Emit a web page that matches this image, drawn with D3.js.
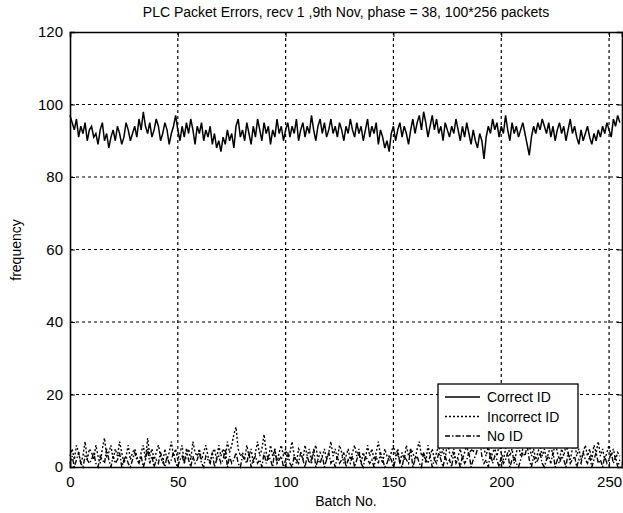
<!DOCTYPE html>
<html><head><meta charset="utf-8">
<script src="https://cdn.jsdelivr.net/npm/d3@7"></script>
<style>body{margin:0;background:#fff}svg{display:block}text{font-family:"Liberation Sans",Arial,sans-serif;fill:#000}</style>
</head><body><svg id="c" width="623" height="513"></svg>
<script>
const title = "PLC Packet Errors, recv 1 ,9th Nov, phase = 38, 100*256 packets";
const xLabel = "Batch No.";
const yLabel = "frequency";
const xTicks = [0, 50, 100, 150, 200, 250];
const yTicks = [0, 20, 40, 60, 80, 100, 120];
const seriesNames = ["Correct ID", "Incorrect ID", "No ID"];
const correctID = [
97,95,93,96,91,94,92,95,90,93, 94,91,92,89,93,95,90,92,88,91,
93,90,94,92,89,91,95,93,90,92, 94,91,96,93,98,94,92,95,91,93,
96,94,90,92,95,93,89,92,94,97, 93,90,94,91,95,92,96,93,89,94,
92,95,90,93,91,94,89,92,88,90, 87,91,89,93,90,92,88,94,96,91,
93,90,95,92,89,94,91,96,93,90, 95,92,94,89,93,91,96,92,94,90,
93,95,91,94,92,96,90,93,95,91, 94,92,97,93,90,94,96,92,95,91,
93,96,92,94,91,95,93,90,94,92, 96,93,91,95,92,94,90,93,96,91,
94,92,95,89,93,91,88,90,87,92, 94,90,93,95,91,94,92,89,93,96,
92,95,97,93,98,95,91,94,97,93, 96,92,94,90,95,93,91,94,92,96,
93,90,94,91,95,92,89,93,90,88, 92,90,85,91,94,92,96,93,95,91,
94,92,97,93,90,95,92,94,91,93, 95,92,89,86,91,94,92,95,93,96,
94,92,95,91,94,90,93,95,92,94, 90,93,96,92,94,91,89,93,90,92,
94,91,89,92,90,93,91,94,92,95, 93,91,96,94,97,95];
const incorrectID = [
3,5,2,6,4,1,3,7,2,5, 4,2,6,3,1,5,8,3,4,6,
2,5,3,7,4,1,3,6,2,4, 5,3,1,4,6,2,8,3,5,2,
4,6,3,1,5,2,4,7,3,5, 2,4,6,1,3,5,2,7,4,3,
5,2,4,6,3,1,4,5,2,6, 3,5,2,7,4,6,9,11,5,3,
4,2,6,3,5,1,4,7,3,5, 9,4,2,6,3,5,1,4,6,3,
5,2,4,7,3,1,5,4,2,6, 3,5,1,4,6,2,4,3,5,2,
4,7,3,5,2,6,4,1,3,5, 2,4,6,3,5,1,4,2,6,3,
5,2,4,7,3,1,5,3,2,4, 6,3,5,1,4,2,6,3,5,4,
2,5,7,3,4,1,6,3,5,2, 4,6,3,5,2,7,4,3,5,1,
3,5,2,4,6,3,5,4,7,10, 13,8,5,3,6,2,4,5,3,6,
4,2,5,7,3,5,1,4,6,3, 5,9,12,6,3,5,2,4,6,3,
5,2,4,6,3,7,4,2,5,3, 6,4,2,5,7,3,5,2,4,6,
3,5,2,6,4,7,3,5,2,4, 6,3,5,2,4,3];
const noID = [
1,3,0,2,4,1,0,3,2,1, 2,4,1,0,3,2,1,5,2,0,
3,1,2,4,0,2,3,1,0,2, 4,2,1,3,0,2,5,1,3,0,
2,1,4,2,0,3,1,2,4,1, 0,2,3,1,5,2,0,3,1,2,
4,1,0,3,2,1,4,0,2,3, 1,2,5,0,3,1,2,4,1,0,
3,2,1,4,0,2,3,1,2,0, 4,1,3,2,0,5,1,2,3,0,
2,4,1,0,3,2,1,4,2,0, 3,1,2,5,0,2,1,3,0,2,
4,1,2,0,3,1,2,4,0,2, 1,3,0,2,4,1,0,3,2,1,
2,0,3,1,4,2,0,1,3,2, 0,2,4,1,0,3,2,1,5,0,
2,3,1,0,4,2,1,3,0,2, 1,4,2,0,3,1,2,0,4,1,
2,0,3,1,2,4,0,2,3,5, 8,3,1,2,0,4,1,3,2,0,
3,1,2,4,0,2,3,1,0,2, 4,3,6,2,0,3,1,2,4,1,
0,2,3,1,4,0,2,1,3,2, 0,4,1,2,3,0,2,1,4,2,
1,3,0,2,4,1,2,0,3,1, 2,4,1,3,0,2];

const svg = d3.select("#c");
const L = 70, R = 622, T = 32, B = 467;
const x = d3.scaleLinear().domain([0, 256]).range([L, R]);
const y = d3.scaleLinear().domain([0, 120]).range([B, T]);

// grid
const g = svg.append("g");
g.selectAll(".gx").data(xTicks.filter(d => d > 0)).join("line")
  .attr("x1", d => x(d)).attr("x2", d => x(d)).attr("y1", T).attr("y2", B)
  .attr("stroke", "#000").attr("stroke-width", 1.2).attr("stroke-dasharray", "3,3");
g.selectAll(".gy").data(yTicks.filter(d => d > 0 && d < 120)).join("line")
  .attr("y1", d => y(d)).attr("y2", d => y(d)).attr("x1", L).attr("x2", R)
  .attr("stroke", "#000").attr("stroke-width", 1.2).attr("stroke-dasharray", "3,3");

// lines
const line = d3.line().x((d, i) => x(i)).y(d => y(d));
const styles = [
  {data: correctID, dash: null, w: 1.5},
  {data: incorrectID, dash: "2,2", w: 1.4},
  {data: noID, dash: "5,2,1.5,2", w: 1.4}
];
styles.slice().reverse().forEach(s => {
  svg.append("path").attr("d", line(s.data)).attr("fill", "none")
    .attr("stroke", "#000").attr("stroke-width", s.w)
    .attr("stroke-dasharray", s.dash);
});

// axes
const xAxis = svg.append("g").attr("transform", `translate(0,${B})`)
  .call(d3.axisBottom(x).tickValues(xTicks).tickSize(-5).tickPadding(9));
const xAxisTop = svg.append("g").attr("transform", `translate(0,${T})`)
  .call(d3.axisTop(x).tickValues(xTicks).tickSize(-5).tickFormat(""));
const yAxis = svg.append("g").attr("transform", `translate(${L},0)`)
  .call(d3.axisLeft(y).tickValues(yTicks).tickSize(-5).tickPadding(7));
const yAxisR = svg.append("g").attr("transform", `translate(${R},0)`)
  .call(d3.axisRight(y).tickValues(yTicks).tickSize(-5).tickFormat(""));
[xAxis, xAxisTop, yAxis, yAxisR].forEach(a => {
  a.select(".domain").attr("stroke", "#000").attr("stroke-width", 1.6);
  a.selectAll(".tick line").attr("stroke", "#000");
  a.selectAll("text").style("font-size", "15px").attr("fill", "#000");
});

svg.append("text").attr("x", 346).attr("y", 17).attr("text-anchor", "middle")
  .style("font-size", "14px").text(title);
svg.append("text").attr("x", 346).attr("y", 506).attr("text-anchor", "middle")
  .style("font-size", "14px").text(xLabel);
svg.append("text").attr("transform", "translate(21,250) rotate(-90)").attr("text-anchor", "middle")
  .style("font-size", "14px").text(yLabel);

// legend
const lg = svg.append("g");
lg.append("rect").attr("x", 438).attr("y", 384).attr("width", 140).attr("height", 64)
  .attr("fill", "#fff").attr("stroke", "#000").attr("stroke-width", 1.3);
seriesNames.forEach((n, i) => {
  const yy = 397 + i * 19.5;
  lg.append("line").attr("x1", 445).attr("x2", 480).attr("y1", yy).attr("y2", yy)
    .attr("stroke", "#000").attr("stroke-width", 1.3).attr("stroke-dasharray", styles[i].dash);
  lg.append("text").attr("x", 487).attr("y", yy + 5).style("font-size", "14px").text(n);
});
</script></body></html>
